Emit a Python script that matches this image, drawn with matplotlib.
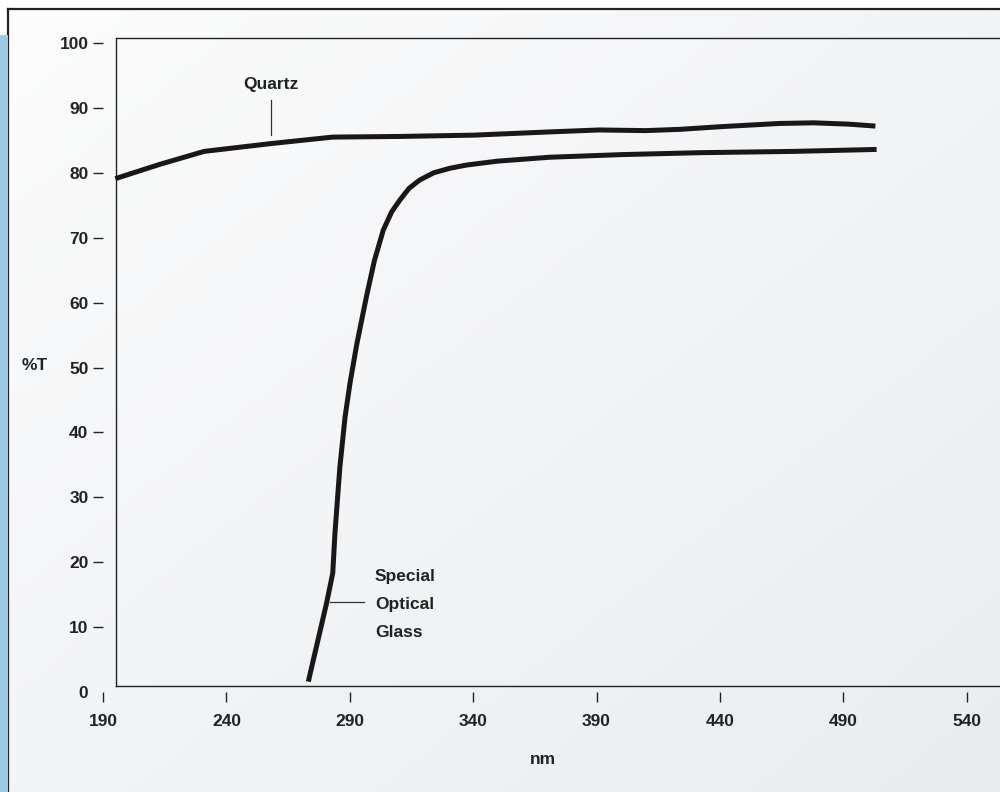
import numpy as np
import matplotlib
matplotlib.use('Agg')
import matplotlib.pyplot as plt
from matplotlib.patches import Rectangle

plt.rcParams['font.family'] = ['Liberation Sans Narrow', 'Liberation Sans', 'DejaVu Sans']
plt.rcParams['font.weight'] = 'bold'
plt.rcParams['axes.labelweight'] = 'bold'

# transmission curves (nm, %T)
quartz_nm = [195, 213, 231, 258, 283, 310, 340, 371, 391, 410, 424, 440, 464, 478, 492, 503]
quartz_t = [79.1, 81.3, 83.3, 84.5, 85.5, 85.6, 85.8, 86.3, 86.6, 86.5, 86.7, 87.1, 87.6, 87.7, 87.5, 87.2]

glass_nm = [273.2, 276.5, 280.6, 283.1, 284.0, 286.0, 288.1, 290.1, 292.8, 296.8,
            300.0, 303.6, 307.0, 310.3, 314.0, 318.4, 324.0, 330.6, 337.4, 350.0,
            371.1, 400.0, 432.0, 470.0, 503.5]
glass_t = [1.6, 7.0, 13.7, 18.3, 24.5, 34.7, 42.4, 47.6, 53.5, 61.0,
           66.5, 71.2, 74.0, 75.8, 77.6, 78.9, 80.0, 80.7, 81.2, 81.8,
           82.4, 82.8, 83.1, 83.3, 83.6]

y_ticks = [0, 10, 20, 30, 40, 50, 60, 70, 80, 90, 100]
x_ticks = [190, 240, 290, 340, 390, 440, 490, 540]

FS = 12.5
TXT = '#222222'

fig = plt.figure(figsize=(10, 7.92), dpi=100)
fig.patch.set_facecolor('white')

# light blue strip on the far left
fig.patches.append(Rectangle((0, 0), 0.008, 1 - 35 / 792, transform=fig.transFigure,
                             facecolor='#9ccae2', edgecolor='none', zorder=0))

# soft gradient panel inside the outer border
bg = fig.add_axes([0.008, 0, 1 - 0.008, 1 - 9 / 792], zorder=0)
gx, gy = np.meshgrid(np.linspace(0, 1, 200), np.linspace(0, 1, 160))
grad = 0.5 * gx + 0.5 * gy
bg.imshow(grad, cmap=matplotlib.colors.LinearSegmentedColormap.from_list(
    'g', ['#fcfcfc', '#eaecf0']), aspect='auto', origin='upper', extent=(0, 1, 0, 1))
bg.set_xticks([])
bg.set_yticks([])
for side in ['right', 'bottom']:
    bg.spines[side].set_visible(False)
for side in ['left', 'top']:
    bg.spines[side].set_linewidth(1.6)
    bg.spines[side].set_color(TXT)

# inner frame
frame = fig.add_axes([0.116, 1 - 686 / 792, 0.9, (686 - 38) / 792], zorder=1)
frame.patch.set_visible(False)
frame.set_xticks([])
frame.set_yticks([])
for side in frame.spines:
    frame.spines[side].set_linewidth(1.0)
    frame.spines[side].set_color(TXT)

# data axes
ax = fig.add_axes([0.103, 1 - 692 / 792, 0.897, (692 - 43) / 792], zorder=2)
ax.patch.set_visible(False)
for side in ax.spines:
    ax.spines[side].set_visible(False)
ax.set_xlim(190, 553.5)
ax.set_ylim(0, 100)

ax.plot(quartz_nm, quartz_t, color='#1a1717', lw=3.6, solid_capstyle='butt')
ax.plot(glass_nm, glass_t, color='#1a1717', lw=3.6, solid_capstyle='butt')

ax.set_yticks(y_ticks)
ax.set_xticks(x_ticks)
ax.tick_params(axis='y', direction='out', length=7.5, width=1.0, color=TXT,
               pad=3, labelsize=FS, labelcolor=TXT)
ax.tick_params(axis='x', direction='out', length=7.5, width=1.0, color=TXT,
               pad=8, labelsize=FS, labelcolor=TXT)
ax.yaxis.get_major_ticks()[0].tick1line.set_visible(False)

ax.set_ylabel('%T', rotation=0, fontsize=FS, color=TXT, ha='center', va='center')
ax.yaxis.set_label_coords((35 - 103) / 897, (692 - 366) / 649)
ax.set_xlabel('nm', fontsize=FS, color=TXT, ha='center', va='center')
ax.xaxis.set_label_coords((543 - 103) / 897, -(759 - 692) / 649)

# annotations
ax.text(258.2, 93.6, 'Quartz', ha='center', va='center', fontsize=FS, color=TXT)
ax.plot([258.2, 258.2], [85.8, 91.2], color='#333333', lw=0.9)

ax.plot([282.0, 295.8], [13.9, 13.9], color='#333333', lw=0.9)
for label, yy in zip(['Special', 'Optical', 'Glass'], [17.8, 13.5, 9.2]):
    ax.text(300.2, yy, label, ha='left', va='center', fontsize=FS, color=TXT)

fig.savefig('out.png', dpi=100)
